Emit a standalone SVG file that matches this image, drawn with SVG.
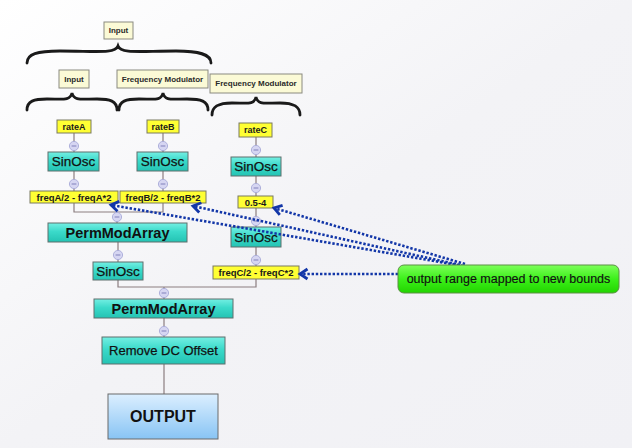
<svg xmlns="http://www.w3.org/2000/svg" width="632" height="448" viewBox="0 0 632 448">
<defs>
<linearGradient id="bg" x1="0" y1="0" x2="1" y2="1">
<stop offset="0" stop-color="#ffffff"/><stop offset="0.5" stop-color="#f3f3f6"/><stop offset="1" stop-color="#f1f1f5"/>
</linearGradient>
<linearGradient id="teal" x1="0" y1="0" x2="0" y2="1">
<stop offset="0" stop-color="#74efe3"/><stop offset="0.45" stop-color="#3bdaca"/><stop offset="1" stop-color="#24c3b3"/>
</linearGradient>
<linearGradient id="blue" x1="0" y1="0" x2="0" y2="1">
<stop offset="0" stop-color="#dcefff"/><stop offset="1" stop-color="#88c4f4"/>
</linearGradient>
<linearGradient id="green" x1="0" y1="0" x2="0" y2="1">
<stop offset="0" stop-color="#7dff5a"/><stop offset="0.5" stop-color="#3cf01a"/><stop offset="1" stop-color="#22d400"/>
</linearGradient>
<marker id="chev" markerUnits="userSpaceOnUse" markerWidth="14" markerHeight="14" viewBox="-10 -7 14 14" refX="0" refY="0" orient="auto">
<path d="M-7.5,-5 L0,0 L-7.5,5" fill="none" stroke="#1236a8" stroke-width="2.8" stroke-linejoin="miter"/>
</marker>
<style>
.lbl{fill:#fbfad6;stroke:#8a8a80;stroke-width:1}
.yel{fill:#ffff33;stroke:#7a7a60;stroke-width:1}
.tl{fill:url(#teal);stroke:#5f6f6d;stroke-width:1}
.t8{font-family:"Liberation Sans",Arial,sans-serif;font-size:8px;font-weight:bold;fill:#2a2a2a;text-anchor:middle;dominant-baseline:central}
.t9{font-family:"Liberation Sans",Arial,sans-serif;font-size:9px;font-weight:bold;fill:#1a1a1a;text-anchor:middle;dominant-baseline:central}
.tf{font-family:"Liberation Sans",Arial,sans-serif;font-size:9.5px;font-weight:bold;fill:#1a1a1a;text-anchor:middle;dominant-baseline:central}
.ts{font-family:"Liberation Sans",Arial,sans-serif;font-size:13.5px;fill:#111;stroke:#111;stroke-width:0.25;text-anchor:middle;dominant-baseline:central}
.tp{font-family:"Liberation Sans",Arial,sans-serif;font-size:14.5px;font-weight:bold;fill:#111;text-anchor:middle;dominant-baseline:central}
.brace{fill:none;stroke:#1a1a1a;stroke-width:2.8;stroke-linecap:round}
.wire{fill:none;stroke:#8c7e80;stroke-width:1.2}
.port{fill:#d6d6f2;stroke:#a8aad8;stroke-width:0.9}
.pm{stroke:#8080bb;stroke-width:1}
.dot{fill:none;stroke:#1236a8;stroke-width:2.6;stroke-dasharray:2.4 1.8}
</style>
</defs>
<rect x="0" y="0" width="632" height="448" fill="url(#bg)"/>

<g id="braces">
<path class="brace" d="M27,63 C27,54 37,51 60,51 C96,51 115,54 118,46 C121,54 140,51 176,51 C199,51 211,54 211,63"/>
<path class="brace" d="M27,110 C27,101 34,99 47,99 C63,99 70,101 72,93 C74,101 81,99 97,99 C110,99 117,101 117,110"/>
<path class="brace" d="M119,110 C119,101 126,99 139,99 C155,99 161,101 163,93 C165,101 171,99 187,99 C201,99 208,101 208,110"/>
<path class="brace" d="M212,115 C212,106 219,103 232,103 C248,103 254,105 256,97 C258,105 264,103 280,103 C293,103 300,106 300,115"/>
</g>

<g id="connectors">
<path class="wire" d="M74,133 V152 M74,171 V191 M163,133 V152 M163,171 V191 M74,203 V212 H163 V203 M117,212 V223 M256,137 V157 M256,176 V196 M256,208 V227 M256,247 V266 M118,242 V262 M118,280 V287 H256 V279 M164,287 V299 M164,318 V337 M164,364 V394"/>
<g>
<circle class="port" cx="74" cy="146" r="4.6"/><line class="pm" x1="71.6" y1="146" x2="76.4" y2="146"/>
<circle class="port" cx="163" cy="146" r="4.6"/><line class="pm" x1="160.6" y1="146" x2="165.4" y2="146"/>
<circle class="port" cx="74" cy="184" r="4.6"/><line class="pm" x1="71.6" y1="184" x2="76.4" y2="184"/>
<circle class="port" cx="163" cy="184" r="4.6"/><line class="pm" x1="160.6" y1="184" x2="165.4" y2="184"/>
<circle class="port" cx="117" cy="217" r="4.6"/><line class="pm" x1="114.6" y1="217" x2="119.4" y2="217"/>
<circle class="port" cx="256" cy="150" r="4.6"/><line class="pm" x1="253.6" y1="150" x2="258.4" y2="150"/>
<circle class="port" cx="256" cy="188" r="4.6"/><line class="pm" x1="253.6" y1="188" x2="258.4" y2="188"/>
<circle class="port" cx="256" cy="221" r="4.6"/><line class="pm" x1="253.6" y1="221" x2="258.4" y2="221"/>
<circle class="port" cx="256" cy="260" r="4.6"/><line class="pm" x1="253.6" y1="260" x2="258.4" y2="260"/>
<circle class="port" cx="118" cy="255" r="4.6"/><line class="pm" x1="115.6" y1="255" x2="120.4" y2="255"/>
<circle class="port" cx="164" cy="293" r="4.6"/><line class="pm" x1="161.6" y1="293" x2="166.4" y2="293"/>
<circle class="port" cx="164" cy="331" r="4.6"/><line class="pm" x1="161.6" y1="331" x2="166.4" y2="331"/>
</g>
</g>

<g id="lbl-input-top"><rect class="lbl" x="104" y="22" width="29" height="17"/><text class="t8" x="118.5" y="30.5">Input</text></g>
<g id="lbl-input"><rect class="lbl" x="59" y="70" width="30" height="18"/><text class="t8" x="74" y="79">Input</text></g>
<g id="lbl-fm1"><rect class="lbl" x="117" y="70" width="91" height="18"/><text class="t8" x="162.5" y="79">Frequency Modulator</text></g>
<g id="lbl-fm2"><rect class="lbl" x="210" y="74" width="92" height="19"/><text class="t8" x="256" y="83.5">Frequency Modulator</text></g>

<g id="rateA"><rect class="yel" x="57" y="120" width="34" height="13"/><text class="t9" x="74" y="126.5">rateA</text></g>
<g id="rateB"><rect class="yel" x="147" y="120" width="32" height="13"/><text class="t9" x="163" y="126.5">rateB</text></g>
<g id="rateC"><rect class="yel" x="239" y="123" width="33" height="14"/><text class="t9" x="255.5" y="130">rateC</text></g>
<g id="sinA"><rect class="tl" x="48" y="152" width="51" height="19"/><text class="ts" x="73.5" y="161.5">SinOsc</text></g>
<g id="sinB"><rect class="tl" x="137" y="152" width="51" height="19"/><text class="ts" x="162.5" y="161.5">SinOsc</text></g>
<g id="sinC"><rect class="tl" x="231" y="157" width="50" height="19"/><text class="ts" x="256" y="166.5">SinOsc</text></g>
<g id="freqA"><rect class="yel" x="30" y="191" width="88" height="12"/><text class="tf" x="74" y="197">freqA/2 - freqA*2</text></g>
<g id="freqB"><rect class="yel" x="120" y="191" width="86" height="12"/><text class="tf" x="163" y="197">freqB/2 - freqB*2</text></g>
<g id="rangeC"><rect class="yel" x="238" y="196" width="35" height="12"/><text class="tf" x="255.5" y="202">0.5-4</text></g>
<g id="permA"><rect class="tl" x="48" y="223" width="139" height="19"/><text class="tp" x="117.5" y="232.5">PermModArray</text></g>
<g id="sinC2"><rect class="tl" x="231" y="227" width="50" height="20"/><text class="ts" x="256" y="237">SinOsc</text></g>
<g id="sinD"><rect class="tl" x="93" y="262" width="50" height="18"/><text class="ts" x="118" y="271">SinOsc</text></g>
<g id="freqC"><rect class="yel" x="213" y="266" width="86" height="13"/><text class="tf" x="256" y="272.5">freqC/2 - freqC*2</text></g>
<g id="permB"><rect class="tl" x="94" y="299" width="139" height="19"/><text class="tp" x="163.5" y="308.5">PermModArray</text></g>
<g id="dcOffset"><rect class="tl" x="102" y="337" width="123" height="27"/><text class="ts" x="163.5" y="350.5" style="font-size:13px">Remove DC Offset</text></g>
<g id="output"><rect x="108" y="394" width="110" height="45" fill="url(#blue)" stroke="#6a6a6a" stroke-width="1"/><text class="tp" x="163" y="416.5" style="font-size:16px">OUTPUT</text></g>

<g id="note-connectors">
<path class="dot" d="M463,266 L111,205" marker-end="url(#chev)"/>
<path class="dot" d="M460,265 L193,206" marker-end="url(#chev)"/>
<path class="dot" d="M465,264 L274,208" marker-end="url(#chev)"/>
<path class="dot" d="M398,274 L300,274" marker-end="url(#chev)"/>
</g>
<g id="note"><rect x="398" y="265" width="221" height="28" rx="6" fill="url(#green)" stroke="#5c8f45" stroke-width="1"/><text x="508.5" y="279" text-anchor="middle" dominant-baseline="central" font-family="Liberation Sans, Arial, sans-serif" font-size="12.5" fill="#111" stroke="#111" stroke-width="0.15">output range mapped to new bounds</text></g>
</svg>
